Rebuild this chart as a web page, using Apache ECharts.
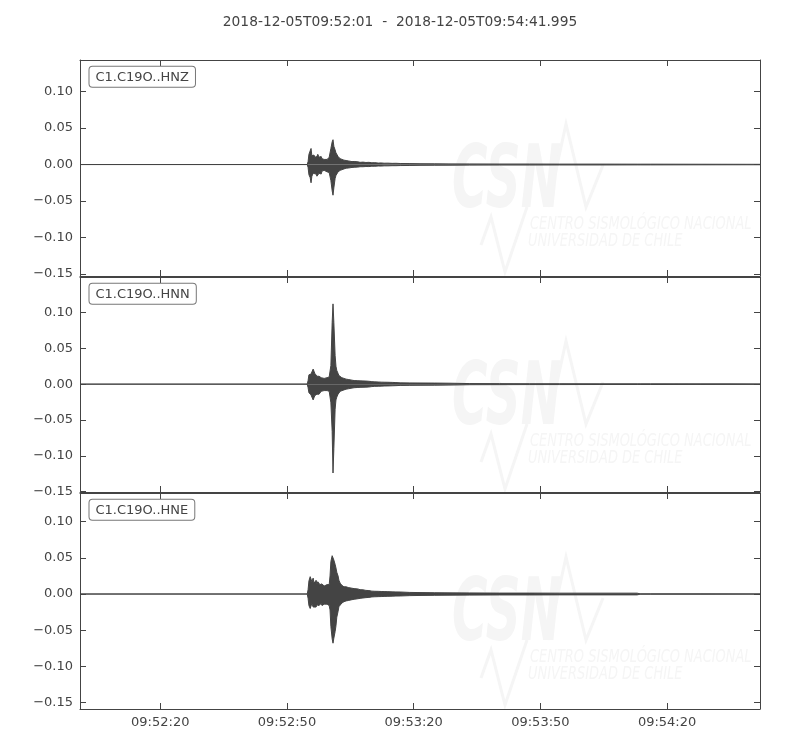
<!DOCTYPE html>
<html>
<head>
<meta charset="utf-8">
<script src="https://cdn.jsdelivr.net/npm/echarts@6/dist/echarts.min.js"></script>
<style>
html,body{margin:0;padding:0;background:#fff;}
#chart{width:800px;height:750px;}
</style>
</head>
<body>
<div id="chart"></div>
<script>
// ---------- data ----------
const titleText = '2018-12-05T09:52:01  -  2018-12-05T09:54:41.995';
const startSecondOfDay = 9 * 3600 + 52 * 60 + 1;   // 09:52:01
const durationSec = 160.995;
const xTickSeconds = [19, 49, 79, 109, 139];       // 09:52:20 ... 09:54:20
const yTicks = [-0.15, -0.10, -0.05, 0.00, 0.05, 0.10];
const channels = ['C1.C19O..HNZ', 'C1.C19O..HNN', 'C1.C19O..HNE'];
const yMin = [-0.1527, -0.1505, -0.159];
const yMax = [0.1432, 0.1495, 0.1397];

// sample times (seconds after 09:52:01) for the trace envelopes
const sampleTime = [
  0, 53.8, 54.0, 54.2, 54.5, 54.7, 54.9, 55.2, 55.4, 55.6,
  55.9, 56.1, 56.3, 56.6, 56.8, 57.1, 57.3, 57.5, 57.8, 58.0,
  58.2, 58.5, 58.7, 59.0, 59.2, 59.4, 59.7, 59.9, 60.1, 60.4,
  60.6, 60.8, 61.1, 61.3, 61.6, 62.0, 62.5, 63.0, 63.5, 63.9,
  64.4, 64.9, 65.3, 65.8, 66.3, 67.0, 67.7, 68.4, 69.1, 69.8,
  70.6, 71.3, 72.0, 72.9, 73.9, 74.8, 75.8, 78.1, 80.5, 84.0,
  87.6, 92.3, 99.4, 106.5, 113.6, 123.1, 131.9, 132.6, 135.0, 146.8, 161.0
];

// C1.C19O..HNZ upper / lower envelope
const hnzUpper = [
  0, 0, 0.004, 0.014, 0.016, 0.022, 0.012, 0.011, 0.013, 0.010,
  0.012, 0.011, 0.014, 0.010, 0.009, 0.011, 0.008, 0.009, 0.007, 0.008,
  0.009, 0.007, 0.008, 0.010, 0.012, 0.022, 0.031, 0.034, 0.025, 0.020,
  0.016, 0.015, 0.011, 0.010, 0.008, 0.007, 0.006, 0.0055, 0.005, 0.0045,
  0.004, 0.0042, 0.0035, 0.0037, 0.003, 0.0033, 0.0028, 0.003, 0.0024, 0.0026,
  0.002, 0.0022, 0.0018, 0.0019, 0.0016, 0.0017, 0.0014, 0.0013, 0.0011, 0.001,
  0.0009, 0.0008, 0.0007, 0.0007, 0.0006, 0.0006, 0.0005, 0.0005, 0.0005, 0.0004, 0.0003
];
const hnzLower = [
  0, 0, -0.004, -0.014, -0.018, -0.025, -0.016, -0.012, -0.014, -0.011,
  -0.013, -0.016, -0.017, -0.012, -0.010, -0.013, -0.009, -0.011, -0.008, -0.009,
  -0.008, -0.010, -0.009, -0.011, -0.013, -0.022, -0.036, -0.042, -0.032, -0.019,
  -0.015, -0.013, -0.010, -0.009, -0.008, -0.0065, -0.006, -0.005, -0.0048, -0.0042,
  -0.004, -0.0038, -0.0034, -0.0035, -0.003, -0.003, -0.0027, -0.0028, -0.0023, -0.0024,
  -0.002, -0.0021, -0.0018, -0.0018, -0.0016, -0.0016, -0.0014, -0.0013, -0.0011, -0.001,
  -0.0009, -0.0008, -0.0007, -0.0007, -0.0006, -0.0006, -0.0005, -0.0005, -0.0005, -0.0004, -0.0003
];

// C1.C19O..HNN upper / lower envelope
const hnnUpper = [
  0, 0, 0.005, 0.013, 0.013, 0.014, 0.017, 0.021, 0.018, 0.015,
  0.013, 0.011, 0.012, 0.011, 0.010, 0.009, 0.008, 0.009, 0.008, 0.008,
  0.008, 0.009, 0.009, 0.010, 0.012, 0.026, 0.086, 0.112, 0.086, 0.040,
  0.025, 0.019, 0.015, 0.012, 0.010, 0.009, 0.008, 0.007, 0.0065, 0.006,
  0.0055, 0.005, 0.005, 0.0048, 0.0046, 0.0045, 0.0043, 0.004, 0.0035, 0.0032,
  0.003, 0.0028, 0.0027, 0.0026, 0.0024, 0.0022, 0.0018, 0.0017, 0.0016, 0.0015,
  0.0013, 0.0008, 0.0007, 0.0006, 0.0006, 0.0005, 0.0005, 0.0005, 0.0005, 0.0004, 0.0004
];
const hnnLower = [
  0, 0, -0.005, -0.012, -0.013, -0.015, -0.018, -0.022, -0.019, -0.016,
  -0.015, -0.014, -0.013, -0.014, -0.012, -0.010, -0.010, -0.009, -0.009, -0.009,
  -0.008, -0.009, -0.008, -0.010, -0.012, -0.026, -0.066, -0.124, -0.090, -0.035,
  -0.022, -0.018, -0.014, -0.012, -0.010, -0.009, -0.008, -0.007, -0.0065, -0.006,
  -0.0055, -0.005, -0.0048, -0.0046, -0.0045, -0.0044, -0.0042, -0.004, -0.0034, -0.0031,
  -0.003, -0.0028, -0.0026, -0.0025, -0.0023, -0.0021, -0.0018, -0.0017, -0.0016, -0.0015,
  -0.0013, -0.0008, -0.0007, -0.0006, -0.0006, -0.0005, -0.0005, -0.0005, -0.0005, -0.0004, -0.0004
];

// C1.C19O..HNE upper / lower envelope
const hneUpper = [
  0, 0, 0.006, 0.018, 0.024, 0.025, 0.017, 0.022, 0.015, 0.016,
  0.019, 0.014, 0.017, 0.016, 0.013, 0.012, 0.014, 0.015, 0.011, 0.012,
  0.012, 0.013, 0.015, 0.013, 0.025, 0.045, 0.053, 0.052, 0.047, 0.041,
  0.036, 0.030, 0.025, 0.019, 0.015, 0.012, 0.010, 0.010, 0.009, 0.0085,
  0.008, 0.0075, 0.0072, 0.007, 0.006, 0.0058, 0.005, 0.0048, 0.004, 0.0038,
  0.0037, 0.0035, 0.0034, 0.0033, 0.003, 0.0029, 0.0028, 0.0022, 0.002, 0.0018,
  0.0016, 0.0015, 0.0013, 0.0013, 0.0012, 0.0012, 0.0012, 0.0003, 0.0003, 0.0003, 0.0003
];
const hneLower = [
  0, 0, -0.006, -0.016, -0.020, -0.022, -0.013, -0.018, -0.020, -0.016,
  -0.018, -0.015, -0.0175, -0.016, -0.014, -0.013, -0.016, -0.0166, -0.014, -0.013,
  -0.012, -0.014, -0.015, -0.016, -0.022, -0.045, -0.062, -0.068, -0.061, -0.052,
  -0.044, -0.032, -0.024, -0.0175, -0.015, -0.0125, -0.0106, -0.0095, -0.009, -0.0083,
  -0.0078, -0.0073, -0.007, -0.0065, -0.006, -0.0055, -0.005, -0.0047, -0.004, -0.0038,
  -0.0036, -0.0035, -0.0033, -0.0032, -0.003, -0.0028, -0.0027, -0.0022, -0.002, -0.0018,
  -0.0016, -0.0015, -0.0013, -0.0013, -0.0012, -0.0012, -0.0012, -0.0003, -0.0003, -0.0003, -0.0003
];

const traces = [
  { upper: hnzUpper, lower: hnzLower },
  { upper: hnnUpper, lower: hnnLower },
  { upper: hneUpper, lower: hneLower }
];

// ---------- layout ----------
const gridLeft = 80, gridWidth = 680;
const gridTops = [60, 277, 493];
const gridHeights = [216, 215, 216];
const INK = '#444';
const FONT = 'DejaVu Sans';

function pad2(n) { return (n < 10 ? '0' : '') + n; }
function fmtTime(v) {
  const s = Math.round(startSecondOfDay + v);
  return pad2(Math.floor(s / 3600)) + ':' + pad2(Math.floor(s % 3600 / 60)) + ':' + pad2(s % 60);
}
function fmtY(v) {
  const s = Math.abs(v).toFixed(2);
  return (v < -1e-9 ? '\u2212' : '') + s;
}

const grids = [], xAxes = [], yAxes = [], series = [], graphics = [];

for (let i = 0; i < 3; i++) {
  grids.push({ left: gridLeft, top: gridTops[i], width: gridWidth, height: gridHeights[i], containLabel: false });
  const axLine = { show: true, onZero: false, lineStyle: { color: INK, width: 1 } };
  ['bottom', 'top'].forEach(function (pos) {
    xAxes.push({
      gridIndex: i, type: 'value', position: pos, min: 0, max: durationSec,
      axisLine: axLine,
      axisTick: { show: true, inside: true, length: 6, customValues: xTickSeconds, lineStyle: { color: INK, width: 1 } },
      axisLabel: {
        show: pos === 'bottom' && i === 2, customValues: xTickSeconds, formatter: fmtTime,
        color: INK, fontSize: 13, fontFamily: FONT, margin: 7
      },
      splitLine: { show: false }
    });
  });
  ['left', 'right'].forEach(function (pos) {
    yAxes.push({
      gridIndex: i, type: 'value', position: pos, min: yMin[i], max: yMax[i],
      axisLine: axLine,
      axisTick: { show: true, inside: true, length: 6, customValues: yTicks, lineStyle: { color: INK, width: 1 } },
      axisLabel: {
        show: pos === 'left', customValues: yTicks, formatter: fmtY,
        color: INK, fontSize: 13, fontFamily: FONT, margin: 7
      },
      splitLine: { show: false }
    });
  });

  const tr = traces[i];
  [tr.upper, tr.lower].forEach(function (vals) {
    series.push({
      type: 'line', xAxisIndex: i * 2, yAxisIndex: i * 2,
      data: sampleTime.map(function (t, j) { return [t, vals[j]]; }),
      symbol: 'none', silent: true, animation: false, z: 3,
      lineStyle: { color: INK, width: 1 },
      areaStyle: { color: INK, opacity: 1, origin: 0 }
    });
  });

  // watermark (very faint CSN logo)
  const dy = gridTops[i] - gridTops[0];
  const wm = '#f5f5f5';
  graphics.push({
    type: 'text', x: 452, y: 140 + dy, z: -10, silent: true, scaleX: 0.55,
    style: { text: 'CSN', font: 'italic bold 88px ' + FONT, fill: wm }
  });
  graphics.push({
    type: 'polyline', z: -10, silent: true,
    shape: { points: [[548, 207 + dy], [566, 124 + dy], [586, 207 + dy], [603, 165 + dy]] },
    style: { stroke: wm, lineWidth: 3, fill: null }
  });
  graphics.push({
    type: 'polyline', z: -10, silent: true,
    shape: { points: [[481, 245 + dy], [491, 217 + dy], [505, 272 + dy], [527, 207 + dy]] },
    style: { stroke: wm, lineWidth: 3, fill: null }
  });
  graphics.push({
    type: 'text', x: 530, y: 215 + dy, z: -10, silent: true, scaleX: 0.72,
    style: { text: 'CENTRO SISMOLÓGICO NACIONAL', font: 'italic 18px ' + FONT, fill: wm }
  });
  graphics.push({
    type: 'text', x: 528, y: 232 + dy, z: -10, silent: true, scaleX: 0.72,
    style: { text: 'UNIVERSIDAD DE CHILE', font: 'italic 18px ' + FONT, fill: wm }
  });

  // channel label box
  graphics.push({
    type: 'text', x: 89.5, y: gridTops[i] + 6.8, z: 20, silent: true,
    style: {
      text: channels[i], font: '13px ' + FONT, fill: INK,
      backgroundColor: '#fff', borderColor: '#777', borderWidth: 1, borderRadius: 3,
      padding: [4, 6, 3, 6]
    }
  });
}

graphics.push({
  type: 'text', x: 400, y: 22, z: 20, silent: true,
  style: { text: titleText, font: '13.8px ' + FONT, fill: INK, align: 'center', verticalAlign: 'middle' }
});

const chart = echarts.init(document.getElementById('chart'), null, { renderer: 'canvas' });
chart.setOption({
  backgroundColor: '#fff',
  animation: false,
  grid: grids,
  xAxis: xAxes,
  yAxis: yAxes,
  series: series,
  graphic: graphics
});
</script>
</body>
</html>
